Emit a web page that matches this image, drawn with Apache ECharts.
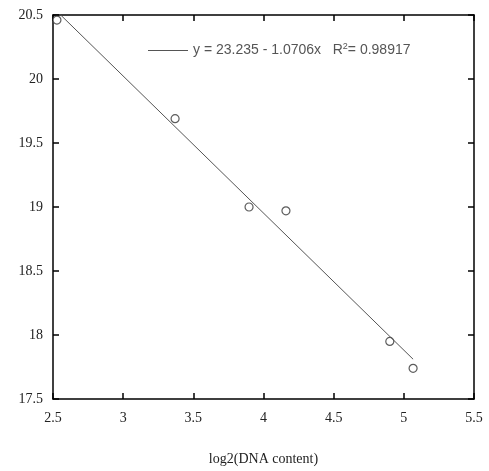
<!DOCTYPE html>
<html>
<head>
<meta charset="utf-8">
<script src="https://cdn.jsdelivr.net/npm/echarts@6/dist/echarts.min.js"></script>
<style>
  html, body { margin: 0; padding: 0; background: #fff; }
  #chart { width: 489px; height: 471px; }
</style>
</head>
<body>
<div id="chart"></div>
<script>
// measured points
const dnaLog2 = [2.528, 3.37, 3.897, 4.16, 4.90, 5.066];
const ctValues = [20.46, 19.69, 19.0, 18.97, 17.95, 17.74];
// fitted line end points
const fitX = [2.55, 5.066];
const fitY = [20.505, 17.811];
const fitLabel = "y = 23.235 - 1.0706x";
const r2Text = "0.98917";

const serif = "'Liberation Serif', 'DejaVu Serif', serif";
const sans = "'Liberation Sans', Arial, sans-serif";

let chart = echarts.init(document.getElementById("chart"), null, { renderer: "canvas" });

const frameLine = { show: true, lineStyle: { color: "#000", width: 1.5 } };
const innerTicks = { show: true, inside: true, length: 6, lineStyle: { color: "#000", width: 1.5 } };

chart.setOption({
  animation: false,
  backgroundColor: "#fff",
  grid: { left: 53, right: 15, top: 15, bottom: 72 },
  legend: {
    left: 143,
    top: 37,
    icon: "rect",
    itemWidth: 40,
    itemHeight: 1,
    itemGap: 4,
    data: [fitLabel],
    formatter: function() {
      return fitLabel + "   R{sup|2}= " + r2Text;
    },
    textStyle: {
      fontFamily: sans,
      fontSize: 14,
      color: "#555",
      rich: {
        sup: { fontFamily: sans, fontSize: 9, color: "#555", padding: [0, 0, 8, 0] }
      }
    }
  },
  xAxis: [
    {
      type: "value",
      min: 2.5,
      max: 5.5,
      interval: 0.5,
      position: "bottom",
      name: "log2(DNA content)",
      nameLocation: "middle",
      nameGap: 53,
      nameTextStyle: { fontFamily: serif, fontSize: 14, color: "#222" },
      axisLine: frameLine,
      axisTick: innerTicks,
      splitLine: { show: false },
      axisLabel: { fontFamily: serif, fontSize: 14, color: "#222", margin: 12 }
    },
    {
      type: "value",
      min: 2.5,
      max: 5.5,
      interval: 0.5,
      position: "top",
      axisLine: frameLine,
      axisTick: innerTicks,
      splitLine: { show: false },
      axisLabel: { show: false }
    }
  ],
  yAxis: [
    {
      type: "value",
      min: 17.5,
      max: 20.5,
      interval: 0.5,
      position: "left",
      axisLine: frameLine,
      axisTick: innerTicks,
      splitLine: { show: false },
      axisLabel: { fontFamily: serif, fontSize: 14, color: "#222", margin: 10 }
    },
    {
      type: "value",
      min: 17.5,
      max: 20.5,
      interval: 0.5,
      position: "right",
      axisLine: frameLine,
      axisTick: innerTicks,
      splitLine: { show: false },
      axisLabel: { show: false }
    }
  ],
  series: [
    {
      name: fitLabel,
      type: "line",
      data: fitX.map((x, i) => [x, fitY[i]]),
      showSymbol: false,
      clip: true,
      itemStyle: { color: "#555" },
      lineStyle: { color: "#555", width: 1 }
    },
    {
      name: "data",
      type: "scatter",
      data: dnaLog2.map((x, i) => [x, ctValues[i]]),
      symbol: "circle",
      symbolSize: 8,
      itemStyle: { color: "#fff", borderColor: "#333", borderWidth: 1.2 }
    }
  ]
});

window.addEventListener("resize", () => {
  chart.resize();
});
</script>
</body>
</html>
